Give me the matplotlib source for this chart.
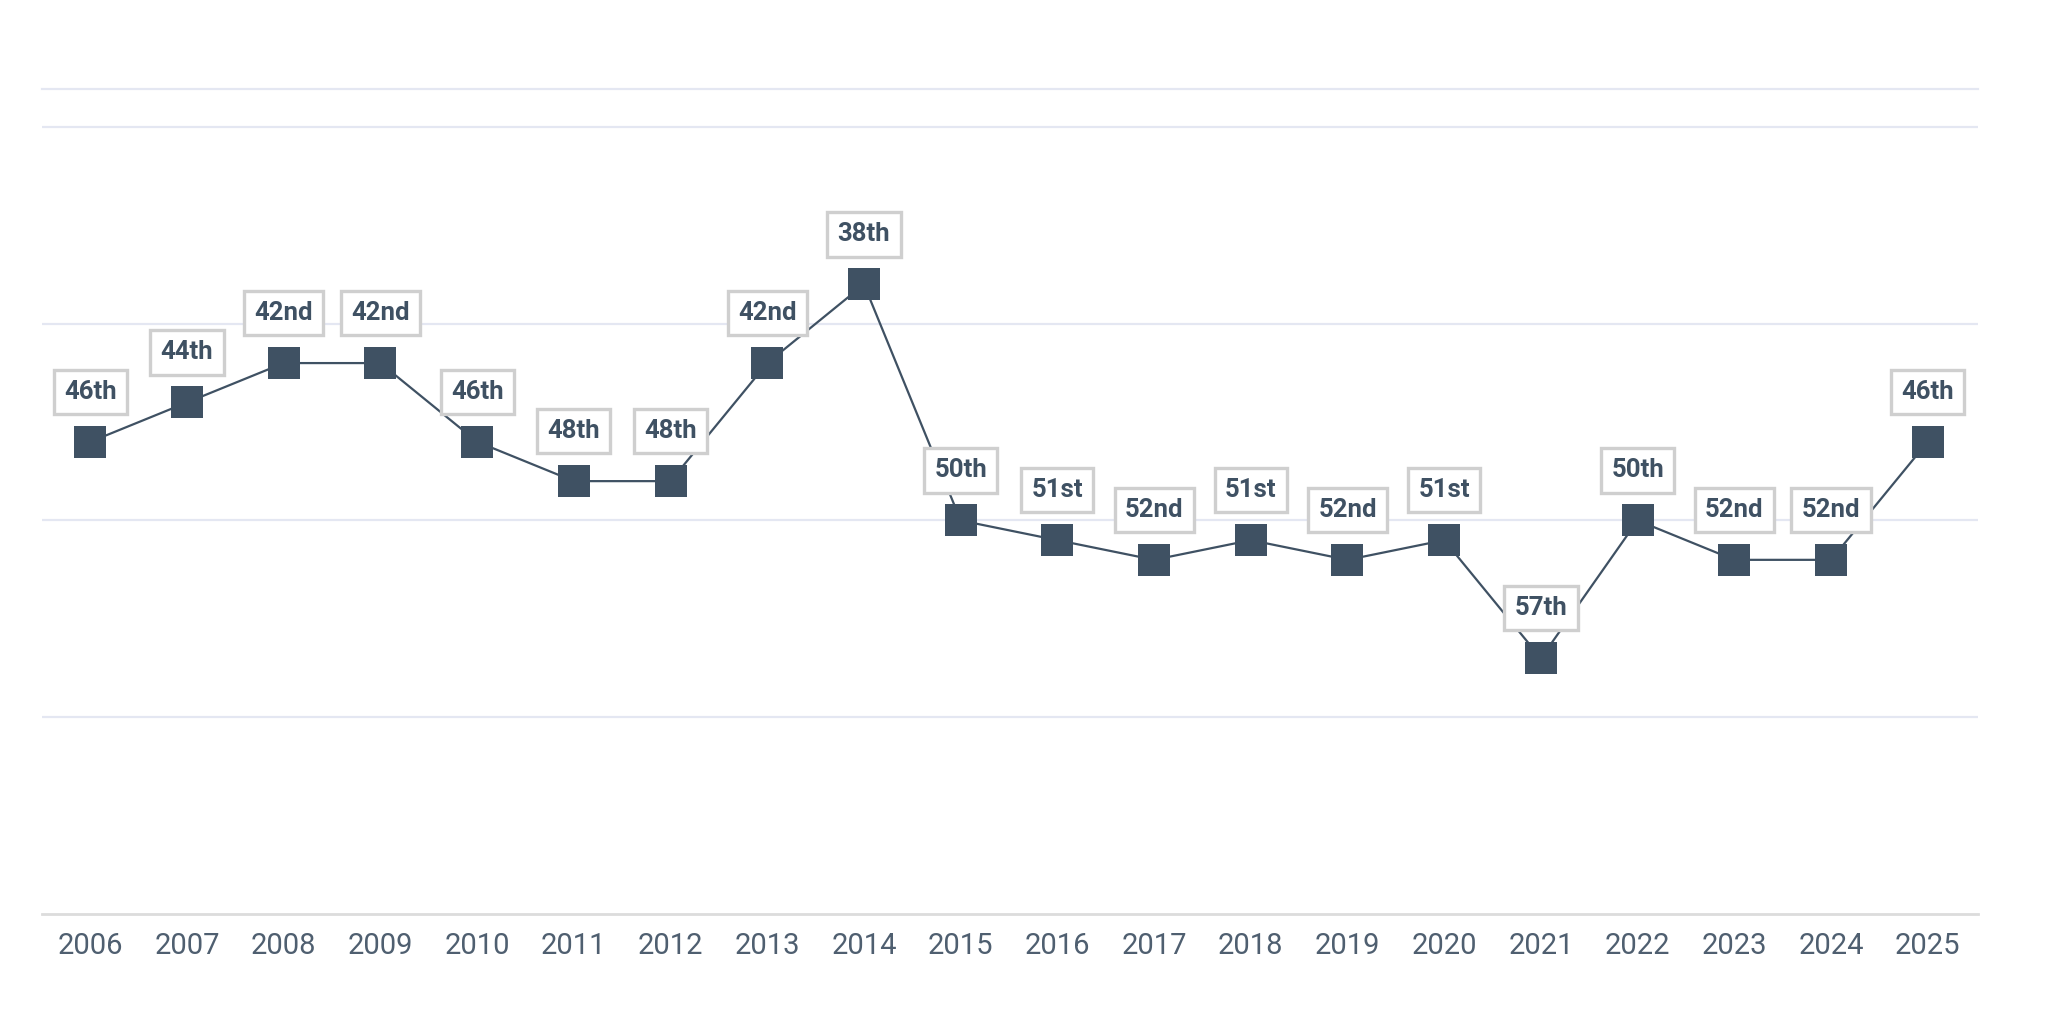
import matplotlib
matplotlib.use("Agg")
import matplotlib.pyplot as plt

years = [2006, 2007, 2008, 2009, 2010, 2011, 2012, 2013, 2014, 2015,
         2016, 2017, 2018, 2019, 2020, 2021, 2022, 2023, 2024, 2025]
ranks = [46, 44, 42, 42, 46, 48, 48, 42, 38, 50,
         51, 52, 51, 52, 51, 57, 50, 52, 52, 46]
rank_labels = ["46th", "44th", "42nd", "42nd", "46th", "48th", "48th", "42nd", "38th", "50th",
               "51st", "52nd", "51st", "52nd", "51st", "57th", "50th", "52nd", "52nd", "46th"]
grid_ranks = [30, 40, 50, 60]

plt.rcParams['font.family'] = ['Roboto', 'DejaVu Sans']

DARK = '#3f5163'
fig = plt.figure(figsize=(20.52, 10.30), dpi=100)
ax = fig.add_axes([42 / 2052, 1 - 914 / 1030, (1978 - 42) / 2052, (914 - 89) / 1030])

ax.set_xlim(2005.5, 2025.52)
ax.set_ylim(70, 28.07)

for g in grid_ranks:
    ax.axhline(g, color='#e4e7f2', lw=1.6, zorder=0)

for s in ['left', 'right']:
    ax.spines[s].set_visible(False)
ax.spines['top'].set_color('#e4e7f2')
ax.spines['top'].set_linewidth(1.6)
ax.spines['bottom'].set_color('#dcdcdc')
ax.spines['bottom'].set_linewidth(2.0)

ax.plot(years, ranks, color=DARK, lw=1.6, marker='s', markersize=23.5,
        markeredgewidth=0, markerfacecolor=DARK, zorder=3, clip_on=False)

for x, y, t in zip(years, ranks, rank_labels):
    ax.annotate(t, (x, y), xytext=(0, 36), textcoords='offset points',
                ha='center', va='center', fontsize=18.5, fontweight='bold', color=DARK,
                bbox=dict(boxstyle='square,pad=0.4', facecolor='white',
                          edgecolor='#cfcfcf', linewidth=2.4),
                zorder=5, annotation_clip=False)

ax.set_xticks(years)
ax.set_xticklabels([str(y) for y in years], fontsize=21, color='#4f5f70')
ax.set_yticks([])
ax.tick_params(axis='x', length=0, pad=13)

fig.savefig('out.png', dpi=100, facecolor='white')
